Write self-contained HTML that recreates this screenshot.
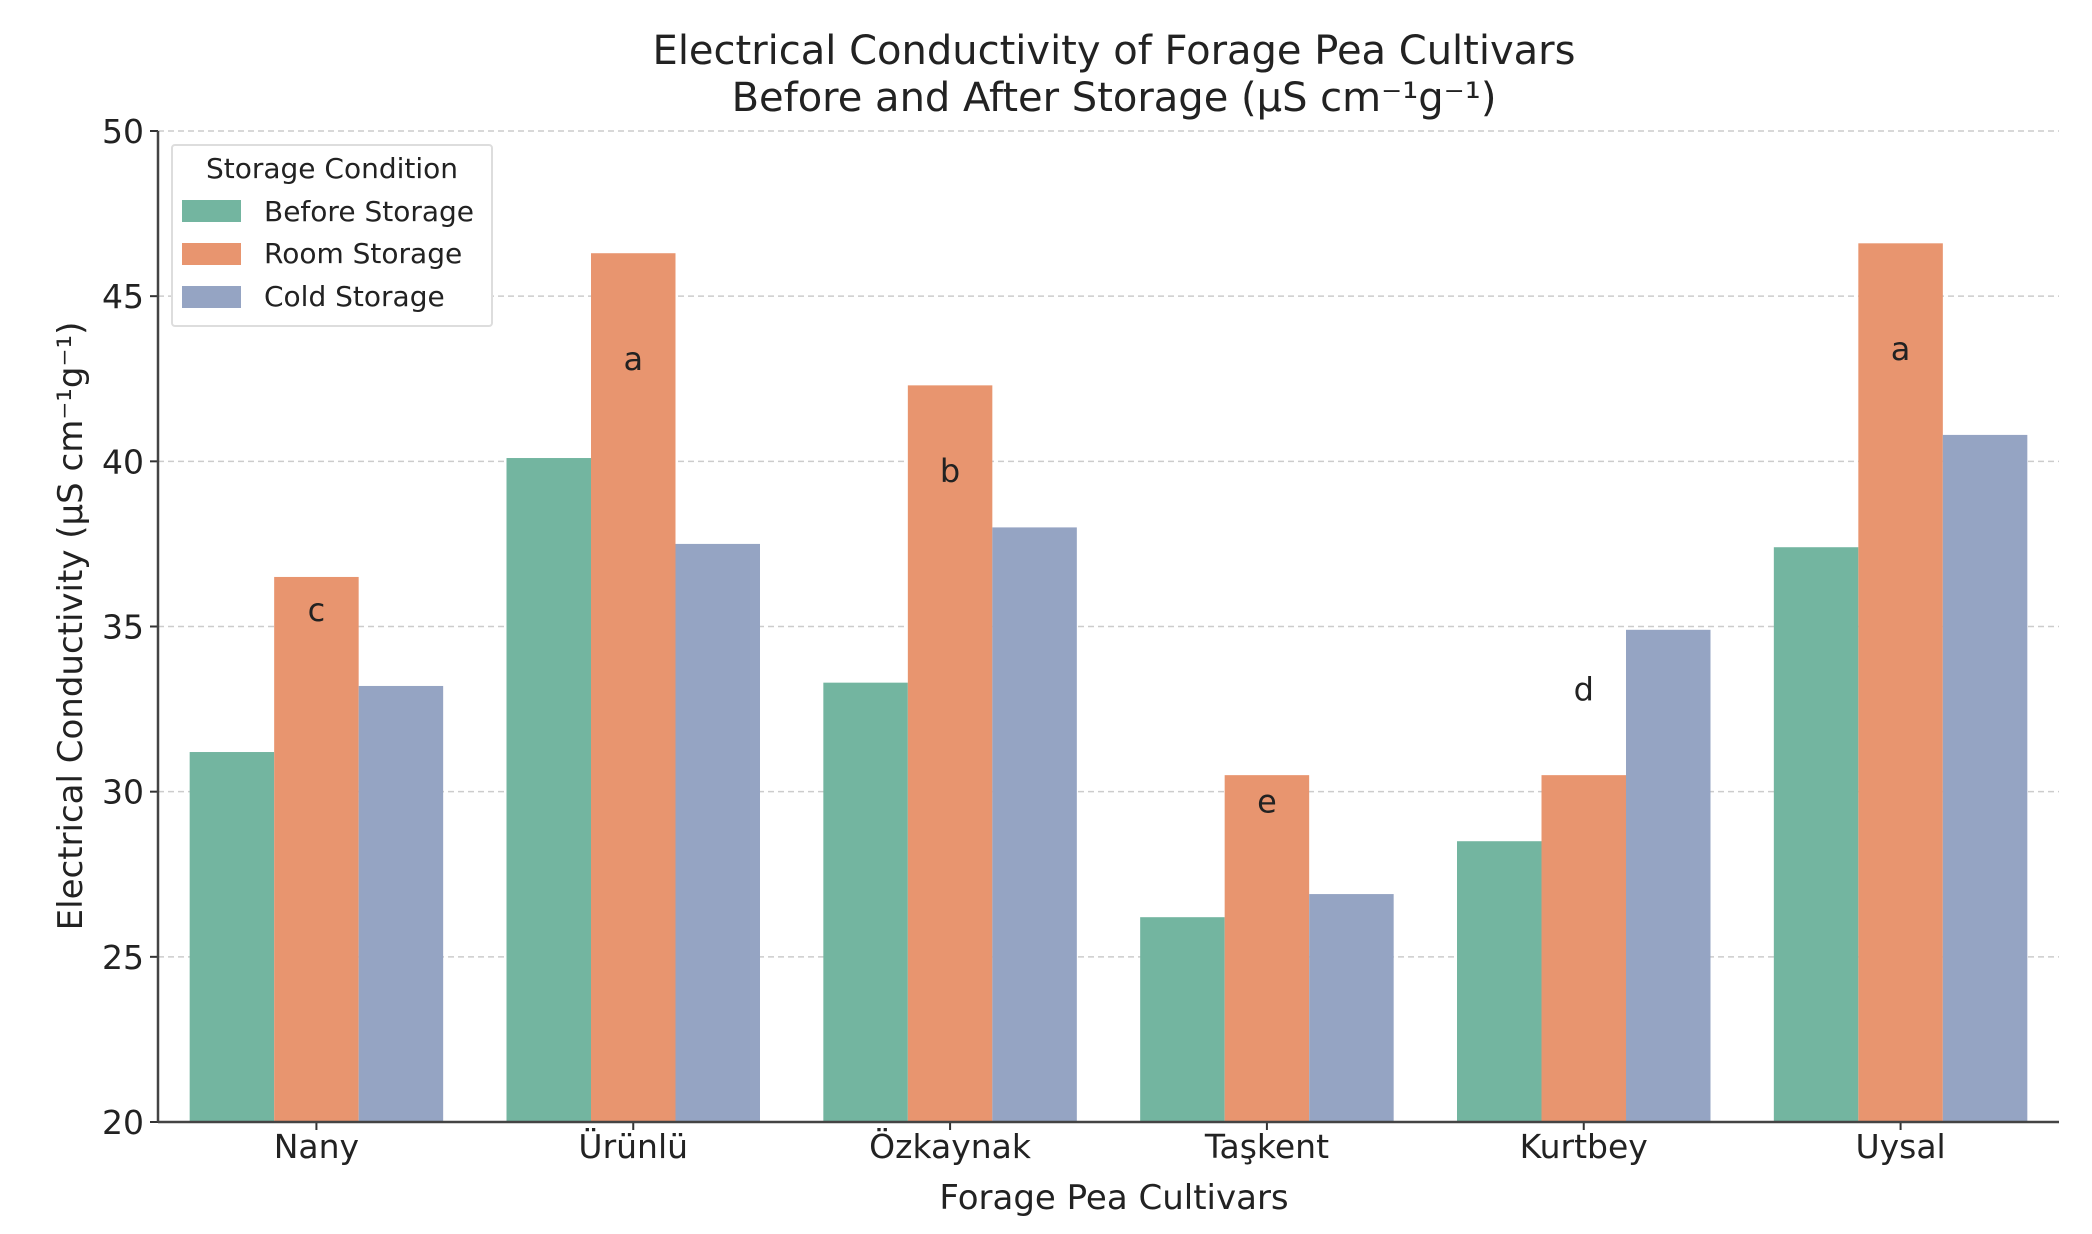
<!DOCTYPE html>
<html><head><meta charset="utf-8"><style>
body{margin:0;background:#fff}
svg text{font-family:"DejaVu Sans","Liberation Sans",sans-serif;fill:#222}
</style></head><body>
<svg id="chart" width="2092" height="1229" xmlns="http://www.w3.org/2000/svg">
<text x="1114" y="64" font-size="40" text-anchor="middle">Electrical Conductivity of Forage Pea Cultivars</text>
<text x="1114" y="111" font-size="40" text-anchor="middle">Before and After Storage (µS cm⁻¹g⁻¹)</text>
<g id="grid"></g>
<g id="bars"></g>
<g id="axes"></g>
<text transform="translate(82,626) rotate(-90)" font-size="34" text-anchor="middle">Electrical Conductivity (µS cm⁻¹g⁻¹)</text>
<text x="1114" y="1209" font-size="34" text-anchor="middle">Forage Pea Cultivars</text>
<g>
<rect x="172" y="145" width="320" height="181" fill="#fff" stroke="#ddd" stroke-width="2" rx="3"/>
<text x="332" y="178" font-size="28" text-anchor="middle">Storage Condition</text>
<rect x="182" y="200" width="59" height="22" fill="#73b5a0"/>
<text x="264" y="221" font-size="28">Before Storage</text>
<rect x="182" y="243" width="59" height="22" fill="#e8956f"/>
<text x="264" y="263" font-size="28">Room Storage</text>
<rect x="182" y="286" width="59" height="22" fill="#95a4c3"/>
<text x="264" y="306" font-size="28">Cold Storage</text>
</g>
</svg>
<script>
const categories=["Nany","Ürünlü","Özkaynak","Taşkent","Kurtbey","Uysal"];
const beforeStorage=[31.2,40.1,33.3,26.2,28.5,37.4];
const roomStorage=[36.5,46.3,42.3,30.5,30.5,46.6];
const coldStorage=[33.2,37.5,38.0,26.9,34.9,40.8];
const letters=["c","a","b","e","d","a"];
const letterValues=[35.5,43.1,39.7,29.7,33.1,43.4];
const yTicks=[20,25,30,35,40,45,50];
const NS="http://www.w3.org/2000/svg";
const L=158,R=2059,T=131,B=1122,yMin=20,yMax=50;
const step=(R-L)/categories.length,bw=84.5;
const y=v=>B-(v-yMin)/(yMax-yMin)*(B-T);
const xc=i=>L+step*(i+0.5);
function mk(tag,attrs,parent){const e=document.createElementNS(NS,tag);for(const k in attrs)e.setAttribute(k,attrs[k]);parent.appendChild(e);return e;}
const grid=document.getElementById('grid'),bars=document.getElementById('bars'),axes=document.getElementById('axes');
yTicks.forEach(t=>{
  const g=mk('line',{x1:L,x2:R,y1:y(t),y2:y(t),stroke:'#ccc','stroke-width':1.5,'stroke-dasharray':'6,4'},grid);
  
  
  const tk=mk('line',{x1:L-8,x2:L,y1:y(t),y2:y(t),stroke:'#333','stroke-width':2},axes);
  
  
  const lb=mk('text',{x:L-14,y:y(t)+12,'font-size':33,'text-anchor':'end'},axes);
  lb.textContent=t;
  
  
});
const series=[[beforeStorage,'#73b5a0','before'],[roomStorage,'#e8956f','room'],[coldStorage,'#95a4c3','cold']];
categories.forEach((c,i)=>{
  series.forEach((s,j)=>{
    const x0=xc(i)+(j-1.5)*bw;
    const r=mk('rect',{x:x0,y:y(s[0][i]),width:bw,height:B-y(s[0][i]),fill:s[1]},bars);
    
    
  });
  const lt=mk('text',{x:xc(i),y:y(letterValues[i])+11,'font-size':32,'text-anchor':'middle'},bars);
  lt.textContent=letters[i];
  
  
  const tk=mk('line',{x1:xc(i),x2:xc(i),y1:B,y2:B+8,stroke:'#333','stroke-width':2},axes);
  
  
  const lb=mk('text',{x:xc(i),y:B+36,'font-size':33,'text-anchor':'middle'},axes);
  lb.textContent=c;
  
  
});
const ya=mk('line',{x1:L,x2:L,y1:T,y2:B,stroke:'#444','stroke-width':2.5},axes);


const xa=mk('line',{x1:L,x2:R,y1:B,y2:B,stroke:'#444','stroke-width':2.5},axes);


</script>
</body></html>
